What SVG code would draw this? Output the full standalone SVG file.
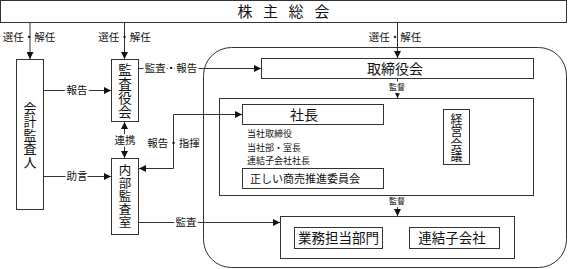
<svg xmlns="http://www.w3.org/2000/svg" width="568" height="269" viewBox="0 0 568 269">
<style>
  .box{fill:#fff;stroke:#333;stroke-width:1}
  .frame{fill:none;stroke:#333;stroke-width:1}
  .ln{fill:none;stroke:#333;stroke-width:1}
  text{font-family:"Noto Sans CJK JP","Noto Sans CJK SC",sans-serif;fill:#111}
  .t14{font-size:14px;text-anchor:middle}
  .t13{font-size:13.5px;text-anchor:middle}
  .v{writing-mode:vertical-rl;text-anchor:middle;letter-spacing:0.5px}
  .lbl{font-size:10.5px;text-anchor:middle}
  .halo{stroke:#fff;stroke-width:4px;paint-order:stroke;stroke-linejoin:round}
  .sm{font-size:8px;text-anchor:middle}
  .lst{font-size:9px}
</style>
<defs>
  <marker id="arr" markerUnits="userSpaceOnUse" markerWidth="7" markerHeight="7" refX="7" refY="3.5" orient="auto-start-reverse">
    <path d="M0,0 L7,3.5 L0,7 z" fill="#111"/>
  </marker>
</defs>

<g id="connectors">
  <line class="ln" x1="30" y1="22.5" x2="30" y2="59" marker-end="url(#arr)"/>
  <line class="ln" x1="124.5" y1="22.5" x2="124.5" y2="59" marker-end="url(#arr)"/>
  <line class="ln" x1="397.5" y1="22.5" x2="397.5" y2="58" marker-end="url(#arr)"/>
  <line class="ln" x1="43.5" y1="90.5" x2="111" y2="90.5" marker-end="url(#arr)"/>
  <line class="ln" x1="138.5" y1="68.5" x2="261" y2="68.5" marker-end="url(#arr)"/>
  <line class="ln" x1="124.5" y1="122" x2="124.5" y2="158" marker-start="url(#arr)" marker-end="url(#arr)"/>
  <line class="ln" x1="43.5" y1="176.5" x2="111" y2="176.5" marker-end="url(#arr)"/>
  <path class="ln" d="M139,168.5 H173.5 V114.5 H242" marker-start="url(#arr)" marker-end="url(#arr)"/>
  <line class="ln" x1="397.5" y1="78.5" x2="397.5" y2="98" marker-end="url(#arr)"/>
  <line class="ln" x1="397.5" y1="195.5" x2="397.5" y2="216" marker-end="url(#arr)"/>
  <line class="ln" x1="138.5" y1="222.5" x2="280" y2="222.5" marker-end="url(#arr)"/>

  <text class="lbl" x="29" y="40.8">選任・解任</text>
  <text class="lbl" x="124.5" y="40.8">選任・解任</text>
  <text class="lbl" x="395" y="40.8">選任・解任</text>
  <text class="lbl halo" x="77" y="94.3">報告</text>
  <text class="lbl halo" x="171" y="72.3">監査・報告</text>
  <text class="lbl halo" x="125" y="144">連携</text>
  <text class="lbl" x="173.5" y="146.8">報告・指揮</text>
  <text class="lbl halo" x="77" y="180">助言</text>
  <text class="lbl halo" x="186" y="226">監査</text>
  <text class="sm halo" x="397" y="89.5">監督</text>
  <text class="sm halo" x="397" y="203.5">監督</text>
</g>

<g id="shareholders">
  <rect class="box" x="0.5" y="0.5" width="566" height="22"/>
  <text class="t14" style="font-size:15px" x="245 270.5 296 322" y="17">株主総会</text>
</g>

<g id="auditor">
  <rect class="box" x="16.5" y="59.5" width="27" height="150"/>
  <text class="v" style="font-size:13px" x="30" y="135">会計監査人</text>
</g>

<g id="audit-board">
  <rect class="box" x="111.5" y="59.5" width="27" height="62"/>
  <text class="v" style="font-size:13.5px" x="125" y="91.5">監査役会</text>
</g>

<g id="internal-audit">
  <rect class="box" x="111.5" y="158.5" width="27" height="76"/>
  <text class="v" style="font-size:12.5px" x="125" y="196.5">内部監査室</text>
</g>

<g id="company-frame">
  <rect class="frame" x="203.5" y="47.5" width="363" height="220" rx="28" ry="28"/>
</g>

<g id="board">
  <rect class="box" x="261.5" y="58.5" width="272" height="20"/>
  <text class="t14" x="395" y="73.5">取締役会</text>
</g>

<g id="management">
  <rect class="frame" x="219.5" y="98.5" width="314" height="97"/>
</g>

<g id="president">
  <rect class="box" x="242.5" y="104.5" width="141" height="20"/>
  <text class="t14" x="304" y="119.7">社長</text>
  <text class="lst" x="247" y="137.3">当社取締役</text>
  <text class="lst" x="247" y="150.5">当社部・室長</text>
  <text class="lst" x="247" y="163.7">連結子会社社長</text>
</g>

<g id="committee">
  <rect class="box" x="242.5" y="168.5" width="141" height="20"/>
  <text class="t14" style="font-size:11px" x="305" y="182.5">正しい商売推進委員会</text>
</g>

<g id="mgmt-meeting">
  <rect class="box" x="443.5" y="109.5" width="26" height="55"/>
  <text class="v" style="font-size:12px" x="456.5" y="138">経営会議</text>
</g>

<g id="operations">
  <rect class="frame" x="280.5" y="216.5" width="234" height="42"/>
</g>

<g id="business-dept">
  <rect class="box" x="294.5" y="227.5" width="88" height="21"/>
  <text class="t13" x="338.5" y="242.5">業務担当部門</text>
</g>

<g id="subsidiaries">
  <rect class="box" x="409.5" y="227.5" width="90" height="21"/>
  <text class="t13" x="452" y="242.5">連結子会社</text>
</g>
</svg>
